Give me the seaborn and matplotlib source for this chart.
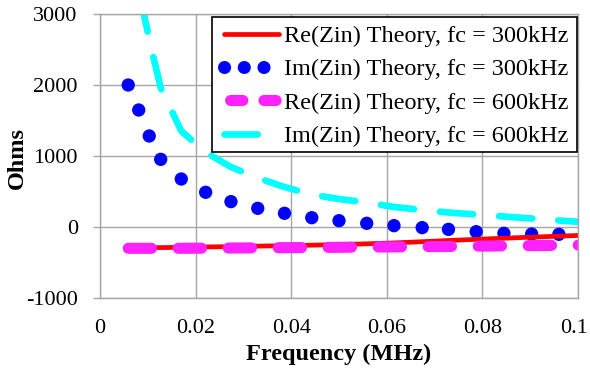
import matplotlib
matplotlib.use("Agg")
import matplotlib.pyplot as plt
from matplotlib.lines import Line2D
from matplotlib.patches import Rectangle
from matplotlib.transforms import ScaledTranslation
import seaborn as sns

# ---- data ----
freq = [0.0059, 0.0081, 0.0103, 0.0127, 0.0170, 0.0221, 0.0274, 0.0330, 0.0386,
        0.0443, 0.0500, 0.0558, 0.0615, 0.0674, 0.0729, 0.0787, 0.0845, 0.0903,
        0.0960, 0.1017]
re_300 = [-290, -290, -290, -290, -286, -281, -276, -269, -263, -256, -247, -237,
          -224, -207, -190, -174, -158, -143, -129, -115]
im_300 = [2000, 1648, 1282, 953, 676, 489, 357, 263, 193, 131, 89, 52, 19, -9,
          -33, -66, -89, -99, -103, -106]
re_600 = [-300, -300, -300, -300, -300, -298, -296, -294, -291, -289, -286, -283,
          -280, -277, -274, -270, -266, -262, -258, -254]
im_600 = [4300, 3350, 2640, 1960, 1352, 1050, 845, 690, 563, 458, 394, 345, 282,
          240, 204, 176, 148, 120, 92, 65]

series_labels = ["Re(Zin) Theory, fc = 300kHz", "Im(Zin) Theory, fc = 300kHz",
                 "Re(Zin) Theory, fc = 600kHz", "Im(Zin) Theory, fc = 600kHz"]
x_ticks = [0, 0.02, 0.04, 0.06, 0.08, 0.1]
x_tick_labels = ["0", "0.02", "0.04", "0.06", "0.08", "0.1"]
y_ticks = [-1000, 0, 1000, 2000, 3000]
y_tick_labels = ["-1000", "0", "1000", "2000", "3000"]

sns.set_theme(style="white")
plt.rcParams["font.family"] = ["Liberation Serif", "DejaVu Serif"]

W, H = 590, 379
fig = plt.figure(figsize=(W / 100, H / 100), dpi=100)
ax = fig.add_axes([100 / W, 1 - 298 / H, 478 / W, 284 / H])

GRID = "#a6a6a6"
ax.set_xlim(0, 0.1)
ax.set_ylim(-1000, 3000)
ax.set_xticks(x_ticks)
ax.set_xticklabels(x_tick_labels)
ax.set_yticks(y_ticks)
ax.set_yticklabels(y_tick_labels)
ax.grid(True, color=GRID, linewidth=1.0)
ax.set_axisbelow(True)
for s in ax.spines.values():
    s.set_color(GRID)
    s.set_linewidth(1.0)

magenta_ls = (0, (2.1, 2.4))
magenta_leg_ls = (2.45, (1.1, 1.9))
cyan_ls = (0, (5.0, 3.9))
blue_ls = (0, (0.01, 1.5))

sns.lineplot(x=freq, y=re_300, ax=ax, color="#ff0000", linewidth=3.4, sort=False,
             solid_capstyle="butt")
sns.scatterplot(x=freq, y=im_300, ax=ax, color="#0000ff", s=92, linewidth=0,
                edgecolor="none")
sns.lineplot(x=freq, y=re_600, ax=ax, color="#ff22ff", linewidth=8.0, sort=False,
             linestyle=magenta_ls, dash_capstyle="round")
sns.lineplot(x=freq, y=im_600, ax=ax, color="#00ffff", linewidth=4.8, sort=False,
             linestyle=cyan_ls, dash_capstyle="round")

TICK_FS = 16
ax.tick_params(axis="x", length=0, pad=15, labelsize=TICK_FS, colors="black")
ax.tick_params(axis="y", length=5, width=1, color=GRID, direction="out", pad=11,
               labelsize=TICK_FS, left=True, labelcolor="black")
# keep the last x label inside the canvas
last = ax.get_xticklabels()[-1]
last.set_transform(last.get_transform() + ScaledTranslation(-4 / 100, 0, fig.dpi_scale_trans))

ax.set_xlabel("Frequency (MHz)", fontsize=17.5, fontweight="bold", color="black")
ax.set_ylabel("Ohms", fontsize=17.5, fontweight="bold", color="black")
ax.xaxis.set_label_coords(0.5, -0.2)
ax.xaxis.label.set_va("center")
ax.yaxis.set_label_coords(-0.172, 0.493)
ax.yaxis.label.set_va("center")

handles = [
    Line2D([], [], color="#ff0000", linewidth=3.4),
    Line2D([], [], color="#0000ff", linewidth=9.4, linestyle=blue_ls,
           dash_capstyle="round"),
    Line2D([], [], color="#ff22ff", linewidth=8.0, linestyle=magenta_leg_ls,
           dash_capstyle="round"),
    Line2D([], [], color="#00ffff", linewidth=4.8, linestyle=cyan_ls,
           dash_capstyle="round"),
]
# legend box (frame drawn separately so its size matches the reference)
frame = Rectangle((212 / W, 1 - 152 / H), 365 / W, 135 / H, transform=fig.transFigure,
                  facecolor="white", edgecolor="black", linewidth=1.2,
                  zorder=4.5, clip_on=False)
ax.add_artist(frame)
leg = ax.legend(handles, series_labels, loc="upper right",
                bbox_to_anchor=(568 / W, 1 - 25 / H), bbox_transform=fig.transFigure,
                fontsize=17.5, frameon=False, handlelength=2.26, handletextpad=0.2,
                labelspacing=0.47, borderpad=0, borderaxespad=0)
for t in leg.get_texts():
    t.set_color("black")

fig.savefig("out.png", dpi=100)
